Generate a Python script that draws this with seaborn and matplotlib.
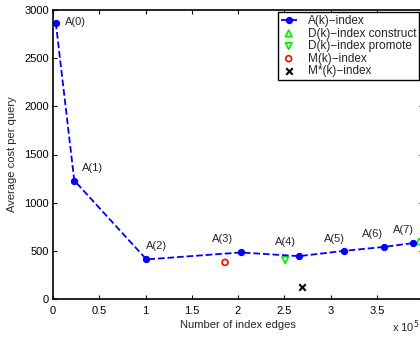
import numpy as np
import pandas as pd
import seaborn as sns
import matplotlib
matplotlib.use("Agg")
import matplotlib.pyplot as plt

# edges are in units of 1e5
a_edges = [0.03, 0.23, 1.01, 2.03, 2.66, 3.15, 3.58, 3.89]
a_cost = [2870, 1230, 411, 483, 445, 500, 541, 580]
a_labels = ["A(0)", "A(1)", "A(2)", "A(3)", "A(4)", "A(5)", "A(6)", "A(7)"]
# where each label text sits (left edge, middle)
label_x = [0.13, 0.31, 1.01, 1.72, 2.40, 2.93, 3.34, 3.68]
label_y = [2880, 1360, 552, 621, 587, 628, 673, 721]

d_construct = ([3.96], [600])
d_promote = ([2.51], [404])
m_index = ([1.86], [380])
mstar_index = ([2.69], [121])

xticks = [0, 0.5, 1, 1.5, 2, 2.5, 3, 3.5, 4]
xtick_labels = ["0", "0.5", "1", "1.5", "2", "2.5", "3", "3.5", ""]
yticks = [0, 500, 1000, 1500, 2000, 2500, 3000]

sns.set_style("ticks")
plt.rcParams["font.family"] = ["Liberation Sans", "DejaVu Sans"]
plt.rcParams["font.size"] = 8

fig = plt.figure(figsize=(4.2, 3.37), dpi=100)
ax = fig.add_axes([53 / 420, 38 / 337, 370 / 420, 289 / 337])

df = pd.DataFrame({"edges": a_edges, "cost": a_cost})
sns.lineplot(data=df, x="edges", y="cost", ax=ax, color="blue", linestyle="--",
             marker="o", markersize=4.5, markeredgecolor="blue", linewidth=1.3,
             label="A(k)\u2212index")
sns.scatterplot(x=d_construct[0], y=d_construct[1], ax=ax, marker="^", s=22,
                facecolors="none", edgecolors="#00ee00", linewidth=1.2,
                label="D(k)\u2212index construct", clip_on=False)
sns.scatterplot(x=d_promote[0], y=d_promote[1], ax=ax, marker="v", s=22,
                facecolors="none", edgecolors="#00ee00", linewidth=1.2,
                label="D(k)\u2212index promote")
sns.scatterplot(x=m_index[0], y=m_index[1], ax=ax, marker="o", s=18,
                facecolors="none", edgecolors="red", linewidth=1.2,
                label="M(k)\u2212index")
sns.scatterplot(x=mstar_index[0], y=mstar_index[1], ax=ax, marker="x", s=22,
                color="black", linewidth=1.5, label="M*(k)\u2212index")

for t, x, y in zip(a_labels, label_x, label_y):
    ax.text(x, y, t, ha="left", va="center", fontsize=8)

ax.set_xlim(0, 4)
ax.set_ylim(0, 3000)
ax.set_xticks(xticks)
ax.set_xticklabels(xtick_labels)
ax.set_yticks(yticks)
ax.tick_params(direction="in", top=True, right=True, length=3, width=0.8,
               labelsize=8, colors="black")
ax.tick_params(axis="x", pad=5)
ax.tick_params(axis="y", pad=3)
for s in ax.spines.values():
    s.set_linewidth(1.2)
    s.set_color("black")
ax.set_xlabel("Number of index edges", fontsize=8, labelpad=3)
ax.set_ylabel("Average cost per query", fontsize=8, labelpad=5)

leg = ax.legend(loc="upper right", bbox_to_anchor=(0.99, 0.993), fontsize=8.5,
                frameon=True, fancybox=False, framealpha=1, edgecolor="black",
                handlelength=1.35, handletextpad=0.95, borderpad=0.25,
                labelspacing=0.05, borderaxespad=0)
leg.get_frame().set_linewidth(1.0)

# offset label for the x axis, kept inside the canvas
fig.text(392 / 420, 10 / 337, "x 10$^5$", fontsize=8, ha="left", va="center")

fig.savefig("out.png", dpi=100)
